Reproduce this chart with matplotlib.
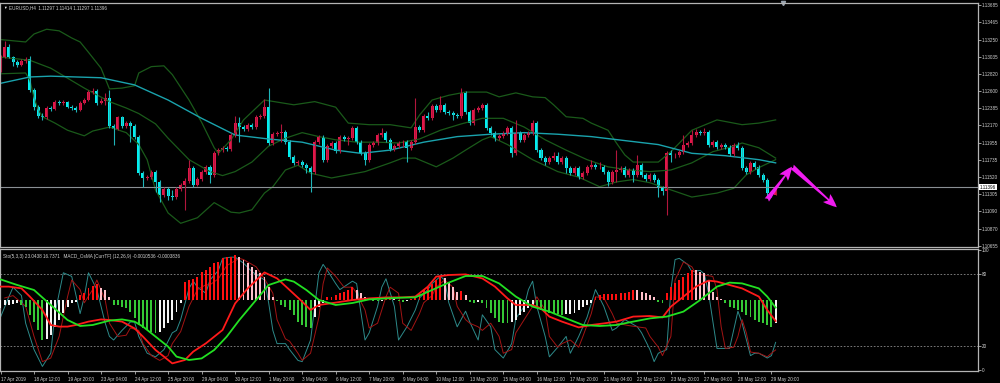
import matplotlib
matplotlib.use("Agg")
import matplotlib.pyplot as plt
import numpy as np

plt.rcParams['font.family'] = ['Liberation Sans', 'DejaVu Sans']

# EURUSD H4 -- bar 0 is 17 Apr 2019 04:00, last bar is the live one
first_open = 1.1287
closes = [
    1.1303, 1.1316, 1.1303, 1.1297, 1.1293, 1.1298, 1.1301, 1.1262, 1.1240, 1.1229,
    1.1228, 1.1239, 1.1238, 1.1247, 1.1245, 1.1247, 1.1240, 1.1239, 1.1237, 1.1245,
    1.1249, 1.1259, 1.1260, 1.1245, 1.1248, 1.1252, 1.1216, 1.1213, 1.1228, 1.1216,
    1.1220, 1.1216, 1.1203, 1.1157, 1.1151, 1.1152, 1.1159, 1.1146, 1.1130, 1.1137,
    1.1128, 1.1127, 1.1137, 1.1142, 1.1147, 1.1164, 1.1142, 1.1150, 1.1159, 1.1165,
    1.1155, 1.1182, 1.1186, 1.1189, 1.1188, 1.1205, 1.1220, 1.1215, 1.1213, 1.1218,
    1.1215, 1.1228, 1.1229, 1.1240, 1.1195, 1.1206, 1.1208, 1.1209, 1.1196, 1.1177,
    1.1170, 1.1171, 1.1167, 1.1164, 1.1159, 1.1196, 1.1203, 1.1174, 1.1191, 1.1195,
    1.1185, 1.1203, 1.1200, 1.1201, 1.1214, 1.1196, 1.1182, 1.1174, 1.1193, 1.1195,
    1.1205, 1.1208, 1.1199, 1.1188, 1.1191, 1.1195, 1.1196, 1.1189, 1.1196, 1.1215,
    1.1211, 1.1229, 1.1226, 1.1242, 1.1237, 1.1243, 1.1234, 1.1233, 1.1230, 1.1229,
    1.1258, 1.1234, 1.1220, 1.1237, 1.1239, 1.1243, 1.1214, 1.1208, 1.1201, 1.1204,
    1.1208, 1.1214, 1.1182, 1.1208, 1.1199, 1.1205, 1.1208, 1.1220, 1.1186, 1.1176,
    1.1171, 1.1176, 1.1179, 1.1171, 1.1176, 1.1164, 1.1157, 1.1164, 1.1152, 1.1157,
    1.1165, 1.1167, 1.1165, 1.1165, 1.1159, 1.1146, 1.1159, 1.1161, 1.1164, 1.1155,
    1.1161, 1.1155, 1.1167, 1.1155, 1.1150, 1.1155, 1.1149, 1.1138, 1.1135, 1.1182,
    1.1180, 1.1180, 1.1184, 1.1193, 1.1195, 1.1205, 1.1209, 1.1208, 1.1209, 1.1193,
    1.1196, 1.1190, 1.1193, 1.1190, 1.1181, 1.1193, 1.1189, 1.1164, 1.1159, 1.1170,
    1.1165, 1.1155, 1.1149, 1.1132, 1.11297, 1.11396]
highs = [
    1.1306, 1.1323, 1.1320, 1.1304, 1.1299, 1.1301, 1.1303, 1.1304, 1.1264, 1.1243,
    1.1233, 1.1242, 1.1242, 1.1249, 1.1249, 1.1249, 1.1248, 1.1243, 1.1242, 1.1248,
    1.1252, 1.1262, 1.1264, 1.1263, 1.1252, 1.1258, 1.1262, 1.1219, 1.1229, 1.1229,
    1.1223, 1.1223, 1.1219, 1.1205, 1.1160, 1.1155, 1.1161, 1.1161, 1.1149, 1.1140,
    1.1140, 1.1136, 1.1140, 1.1145, 1.1151, 1.1174, 1.1166, 1.1152, 1.1161, 1.1167,
    1.1167, 1.1185, 1.1189, 1.1191, 1.1191, 1.1208, 1.1229, 1.1228, 1.1218, 1.1220,
    1.1220, 1.1230, 1.1232, 1.1250, 1.1264, 1.1209, 1.1210, 1.1219, 1.1211, 1.1199,
    1.1180, 1.1174, 1.1174, 1.1170, 1.1166, 1.1199, 1.1205, 1.1205, 1.1194, 1.1198,
    1.1198, 1.1205, 1.1205, 1.1204, 1.1216, 1.1216, 1.1199, 1.1185, 1.1195, 1.1198,
    1.1208, 1.1214, 1.1210, 1.1201, 1.1194, 1.1198, 1.1199, 1.1199, 1.1199, 1.1252,
    1.1218, 1.1232, 1.1234, 1.1244, 1.1244, 1.1254, 1.1245, 1.1237, 1.1235, 1.1233,
    1.1264, 1.1260, 1.1237, 1.1239, 1.1242, 1.1245, 1.1245, 1.1216, 1.1210, 1.1206,
    1.1210, 1.1216, 1.1216, 1.1224, 1.1210, 1.1208, 1.1210, 1.1224, 1.1223, 1.1189,
    1.1179, 1.1179, 1.1184, 1.1184, 1.1179, 1.1179, 1.1166, 1.1166, 1.1166, 1.1160,
    1.1167, 1.1174, 1.1170, 1.1171, 1.1167, 1.1161, 1.1161, 1.1186, 1.1166, 1.1166,
    1.1164, 1.1164, 1.1180, 1.1170, 1.1157, 1.1157, 1.1157, 1.1151, 1.1141, 1.1185,
    1.1186, 1.1182, 1.1186, 1.1205, 1.1198, 1.1211, 1.1213, 1.1211, 1.1214, 1.1211,
    1.1199, 1.1199, 1.1195, 1.1195, 1.1193, 1.1195, 1.1196, 1.1191, 1.1166, 1.1172,
    1.1172, 1.1167, 1.1157, 1.1151, 1.1135, 1.11414]
lows = [
    1.1284, 1.1302, 1.1302, 1.1292, 1.1291, 1.1292, 1.1296, 1.1259, 1.1237, 1.1226,
    1.1224, 1.1225, 1.1235, 1.1237, 1.1243, 1.1243, 1.1239, 1.1237, 1.1234, 1.1235,
    1.1244, 1.1248, 1.1257, 1.1243, 1.1244, 1.1243, 1.1214, 1.1193, 1.1211, 1.1214,
    1.1214, 1.1196, 1.1200, 1.1155, 1.1140, 1.1149, 1.1150, 1.1133, 1.1121, 1.1127,
    1.1123, 1.1123, 1.1125, 1.1135, 1.1111, 1.1145, 1.1140, 1.1141, 1.1147, 1.1156,
    1.1145, 1.1152, 1.1180, 1.1184, 1.1185, 1.1185, 1.1203, 1.1196, 1.1210, 1.1210,
    1.1213, 1.1213, 1.1225, 1.1226, 1.1193, 1.1193, 1.1204, 1.1196, 1.1194, 1.1175,
    1.1167, 1.1167, 1.1165, 1.1157, 1.1133, 1.1156, 1.1194, 1.1171, 1.1171, 1.1189,
    1.1182, 1.1182, 1.1198, 1.1193, 1.1199, 1.1194, 1.1180, 1.1167, 1.1171, 1.1190,
    1.1193, 1.1203, 1.1196, 1.1185, 1.1185, 1.1189, 1.1190, 1.1171, 1.1186, 1.1194,
    1.1209, 1.1209, 1.1224, 1.1224, 1.1234, 1.1234, 1.1232, 1.1230, 1.1224, 1.1226,
    1.1226, 1.1232, 1.1218, 1.1218, 1.1234, 1.1237, 1.1211, 1.1205, 1.1198, 1.1199,
    1.1201, 1.1205, 1.1177, 1.1180, 1.1196, 1.1196, 1.1203, 1.1205, 1.1184, 1.1174,
    1.1167, 1.1169, 1.1174, 1.1169, 1.1169, 1.1157, 1.1155, 1.1155, 1.1150, 1.1150,
    1.1155, 1.1162, 1.1162, 1.1162, 1.1156, 1.1141, 1.1143, 1.1146, 1.1159, 1.1152,
    1.1152, 1.1146, 1.1152, 1.1152, 1.1147, 1.1147, 1.1146, 1.1127, 1.1130, 1.1104,
    1.1171, 1.1176, 1.1177, 1.1181, 1.1190, 1.1193, 1.1203, 1.1205, 1.1205, 1.1190,
    1.1190, 1.1188, 1.1188, 1.1188, 1.1179, 1.1179, 1.1186, 1.1161, 1.1156, 1.1156,
    1.1162, 1.1152, 1.1146, 1.1126, 1.1127, 1.11297]

# moving average (teal) sampled at bars
ma_bar = [0, 7, 12, 24, 32, 40, 48, 56, 64, 72, 80, 86, 93, 101, 109, 117, 125,
          133, 141, 149, 157, 165, 173, 181, 185]
ma_val = [1.1270, 1.1278, 1.1279, 1.1277, 1.1268, 1.1249, 1.1226, 1.1205, 1.1200,
          1.1196, 1.1186, 1.1182, 1.1186, 1.1196, 1.1203, 1.1206, 1.1208, 1.1206,
          1.1203, 1.1198, 1.1193, 1.1182, 1.1179, 1.1174, 1.1170]

# bollinger bands (dark green)
bb_up_bar = [0, 6, 8, 11, 14, 17, 19, 21, 24, 26, 29, 32, 33, 36, 39, 41, 45, 48,
             51, 52, 55, 58, 63, 70, 75, 80, 83, 88, 93, 98, 100, 103, 107, 111,
             116, 119, 123, 127, 130, 132, 135, 139, 141, 145, 147, 149, 151, 157,
             160, 165, 171, 177, 181, 185]
bb_up_val = [1.1325, 1.1322, 1.1332, 1.1338, 1.1336, 1.1327, 1.1322, 1.1309, 1.1289,
             1.1263, 1.1264, 1.1267, 1.1283, 1.1291, 1.1292, 1.1281, 1.1249, 1.1221,
             1.1189, 1.1182, 1.1199, 1.1224, 1.1249, 1.1243, 1.1247, 1.1240, 1.1220,
             1.1218, 1.1218, 1.1214, 1.1230, 1.1249, 1.1255, 1.1259, 1.1259, 1.1253,
             1.1258, 1.1253, 1.1252, 1.1243, 1.1228, 1.1226, 1.1220, 1.1211, 1.1195,
             1.1180, 1.1171, 1.1171, 1.1184, 1.1211, 1.1224, 1.1218, 1.1220, 1.1224]
bb_mid_bar = [0, 7, 12, 20, 26, 30, 33, 37, 40, 45, 50, 53, 56, 60, 64, 68, 72, 76,
              80, 85, 90, 95, 100, 105, 110, 115, 120, 125, 130, 135, 140, 145, 150,
              155, 160, 165, 170, 175, 177, 181, 185]
bb_mid_val = [1.1303, 1.1299, 1.1289, 1.1264, 1.1247, 1.1239, 1.1232, 1.1219, 1.1201,
              1.1174, 1.1159, 1.1154, 1.1159, 1.1171, 1.1191, 1.1201, 1.1208, 1.1203,
              1.1199, 1.1196, 1.1196, 1.1195, 1.1200, 1.1211, 1.1219, 1.1226, 1.1226,
              1.1215, 1.1199, 1.1186, 1.1174, 1.1165, 1.1161, 1.1159, 1.1161, 1.1170,
              1.1184, 1.1191, 1.1195, 1.1189, 1.1176]
bb_lo_bar = [0, 6, 7, 8, 9, 10, 13, 16, 20, 22, 26, 30, 33, 35, 37, 40, 43, 47, 51,
             55, 57, 60, 63, 65, 68, 71, 74, 79, 87, 93, 96, 99, 104, 108, 111, 115,
             117, 121, 127, 133, 138, 143, 147, 151, 155, 160, 165, 171, 175, 178,
             181, 185]
bb_lo_val = [1.1282, 1.1283, 1.1274, 1.1252, 1.1237, 1.1228, 1.1220, 1.1211, 1.1204,
             1.1210, 1.1215, 1.1208, 1.1193, 1.1174, 1.1136, 1.1107, 1.1094, 1.1101,
             1.1120, 1.1108, 1.1107, 1.1111, 1.1132, 1.1140, 1.1161, 1.1167, 1.1157,
             1.1151, 1.1159, 1.1170, 1.1176, 1.1176, 1.1165, 1.1176, 1.1186, 1.1199,
             1.1203, 1.1193, 1.1174, 1.1159, 1.1152, 1.1140, 1.1146, 1.1149, 1.1145,
             1.1136, 1.1127, 1.1132, 1.1138, 1.1155, 1.1164, 1.1174]

# MACD OsMA histogram, one value per bar
osma = [
    -0.00042, -0.00025, -0.00025, -0.00022, -0.00017, -0.00025, -0.00033, -0.00075, -0.00108, -0.0015,
    -0.002, -0.00193, -0.00175, -0.00133, -0.001, -0.00067, -0.00033, -0.00017, -0.00008, 0.00025,
    0.00033, 0.00058, 0.0007, 0.0008, 0.00058, 0.0005, 0.00017, -0.00025, -0.00027, -0.00033,
    -0.00042, -0.00058, -0.00092, -0.00125, -0.00142, -0.0015, -0.00158, -0.00163, -0.00158, -0.00142,
    -0.00117, -0.001, -0.00058, -0.00017, 0.00092, 0.001, 0.00103, 0.00117, 0.00142, 0.0015,
    0.00167, 0.00183, 0.00192, 0.00208, 0.00213, 0.00217, 0.00225, 0.00217, 0.002, 0.00183,
    0.00167, 0.0015, 0.00133, 0.00117, 0.00067, 0.00017, -0.00007, -0.00025, -0.00033, -0.0005,
    -0.00075, -0.00108, -0.00125, -0.00137, -0.00142, -0.00083, -0.00033, -0.00017, 0.00013, 0.00017,
    0.00025, 0.00033, 0.00042, 0.0005, 0.00067, 0.0005, 0.00033, 0.00017, 0.00003, -0.00003,
    -0.00007, -0.00003, 0.00003, 0.00007, 0.00003, -0.00005, -0.00008, -0.00007, 0.00003, 0.00017,
    0.00033, 0.0005, 0.00067, 0.0008, 0.001, 0.00113, 0.00108, 0.00092, 0.00067, 0.00042,
    0.00045, 0.00025, -0.00008, -0.00013, -0.00008, -0.00017, -0.00042, -0.00067, -0.00092, -0.00108,
    -0.00113, -0.00117, -0.00108, -0.001, -0.00075, -0.00058, -0.00042, -0.00025, -0.00033, -0.0005,
    -0.00058, -0.00067, -0.00068, -0.0007, -0.00075, -0.0007, -0.00069, -0.00063, -0.0005, -0.00033,
    -0.00025, -0.00013, 0.00017, 0.00025, 0.0003, 0.0003, 0.00031, 0.00032, 0.00033, 0.00037,
    0.00042, 0.0005, 0.00048, 0.00042, 0.00033, 0.00025, 0.00017, -0.00008, -0.00017, 0.00033,
    0.00067, 0.00083, 0.001, 0.00117, 0.00133, 0.00152, 0.0015, 0.00142, 0.00133, 0.001,
    0.00042, 0.00017, 0.00003, -0.00013, -0.00033, -0.00042, -0.0005, -0.00058, -0.00075, -0.00087,
    -0.001, -0.00108, -0.00117, -0.00125, -0.00137, -0.00117]

# MACD main (red) and signal (lime)
macd_bar = [0, 2, 5, 7, 10, 12, 14, 16, 18, 21, 24, 26, 29, 32, 34, 37, 39, 41, 44,
            46, 49, 53, 56, 59, 63, 66, 69, 72, 74, 76, 80, 84, 88, 92, 96, 99, 102,
            104, 107, 111, 115, 118, 121, 123, 127, 129, 131, 134, 138, 141, 144,
            147, 151, 155, 158, 160, 163, 166, 169, 171, 174, 177, 181, 183, 185]
macd_val = [0.00067, 0.00067, 0.00058, 0.00017, -0.0005, -0.00125, -0.00133, -0.00133,
            -0.00125, -0.00108, -0.00097, -0.001, -0.00108, -0.00142, -0.00183, -0.0025,
            -0.00283, -0.00317, -0.003, -0.00258, -0.00217, -0.0015, -0.00017, 0.00058,
            0.00138, 0.00108, 0.0005, -0.00008, -0.0005, -0.00025, -0.00013, 0.0, 0.00008,
            0.00013, 0.00013, 0.00017, 0.00067, 0.00117, 0.00125, 0.00128, 0.00108,
            0.00067, 0.00008, -0.00025, -0.00025, -0.00042, -0.00083, -0.00108, -0.00137,
            -0.00125, -0.00117, -0.00108, -0.00083, -0.0008, -0.00087, -0.00033, 0.00017,
            0.00067, 0.00097, 0.00092, 0.00075, 0.00058, 0.00017, -0.0005, -0.00105]
signal_bar = [0, 4, 8, 12, 16, 19, 22, 26, 29, 32, 34, 37, 40, 42, 45, 48, 51, 54,
              57, 61, 64, 68, 70, 73, 76, 80, 84, 88, 92, 96, 99, 103, 107, 111, 115,
              119, 123, 127, 131, 135, 139, 143, 147, 151, 155, 159, 163, 167, 171,
              174, 177, 181, 183, 185]
signal_val = [0.00103, 0.00075, 0.0005, -0.00025, -0.001, -0.0013, -0.00125, -0.00103,
              -0.00097, -0.00108, -0.00133, -0.00183, -0.00233, -0.00283, -0.003,
              -0.00292, -0.0025, -0.00183, -0.001, 0.0, 0.00075, 0.00103, 0.00092,
              0.0005, 0.0, -0.00025, -0.00015, 0.00003, 0.00008, 0.00012, 0.00013,
              0.0005, 0.00087, 0.0012, 0.0012, 0.00083, 0.00017, -0.00033, -0.00058,
              -0.00092, -0.00125, -0.0013, -0.00125, -0.00108, -0.00092, -0.00083,
              -0.00058, 0.0, 0.00067, 0.00087, 0.00083, 0.00058, 0.00017, -0.00038]

# stochastic (5,3,3): main (teal) and signal (dark red)
stk_bar = [0, 2, 3, 5, 6, 8, 10, 12, 13, 15, 17, 19, 20, 21, 23, 25, 26, 27, 29,
           31, 32, 33, 35, 37, 39, 41, 42, 43, 45, 46, 47, 49, 50, 52, 53, 55, 56,
           58, 60, 63, 64, 65, 66, 68, 69, 71, 72, 74, 76, 77, 78, 80, 81, 84, 85,
           87, 88, 90, 91, 92, 94, 95, 97, 99, 100, 102, 103, 105, 106, 107, 109,
           111, 112, 114, 115, 117, 118, 120, 122, 123, 125, 126, 127, 128, 130,
           131, 133, 135, 136, 138, 140, 142, 144, 146, 147, 149, 150, 152, 153,
           155, 156, 157, 159, 160, 161, 162, 164, 165, 167, 168, 169, 171, 173,
           174, 176, 177, 179, 180, 181, 183, 184, 185]
stk_val = [44, 61, 69, 62, 39, 17, 3, 14, 47, 81, 78, 47, 61, 81, 67, 39, 28, 25, 33,
           40, 40, 28, 14, 11, 17, 31, 33, 42, 68, 74, 69, 64, 75, 83, 93, 94, 94,
           89, 82, 75, 56, 33, 22, 22, 17, 8, 7, 25, 81, 88, 83, 72, 67, 74, 72,
           25, 31, 53, 69, 76, 53, 25, 36, 50, 60, 67, 72, 78, 75, 56, 36,
           49, 40, 25, 46, 36, 17, 10, 22, 43, 53, 67, 74, 53, 28,
           11, 19, 28, 14, 28, 44, 67, 53, 33, 35, 42, 40, 36, 31,
           17, 7, 14, 17, 67, 92, 93, 88, 82, 83, 80, 64, 18, 18,
           18, 49, 39, 12, 14, 14, 10, 12, 23.04]
std_bar = [1, 3, 6, 8, 10, 12, 14, 16, 17, 19, 20, 22, 23, 25, 26, 28, 30, 31, 33,
           34, 36, 38, 40, 41, 43, 45, 47, 49, 50, 52, 54, 57, 58, 61, 63, 65, 66,
           68, 69, 71, 72, 74, 76, 77, 78, 80, 82, 84, 85, 87, 88, 90, 92, 93, 95,
           96, 98, 100, 101, 103, 104, 106, 108, 109, 111, 112, 114, 115, 117, 119,
           120, 122, 123, 125, 127, 128, 130, 131, 133, 134, 136, 138, 139, 141,
           142, 144, 146, 147, 150, 152, 154, 155, 157, 158, 160, 161, 163, 165,
           166, 168, 170, 171, 172, 173, 175, 176, 177, 178, 179, 181, 183, 184, 185]
std_val = [60, 62, 53, 28, 7, 10, 28, 61, 75, 67, 56, 67, 75, 58, 39, 28, 29, 35, 33,
           22, 12, 8, 12, 22, 32, 53, 67, 71, 71, 76, 87, 93, 92, 86, 76, 64, 42,
           26, 24, 14, 8, 14, 44, 72, 85, 78, 69, 69, 64, 50, 35, 39, 61, 69, 64,
           39, 33, 47, 56, 62, 69, 75, 69, 53, 42, 39, 36, 33, 39, 28,
           14, 17, 31, 42, 53, 61, 50, 28, 19, 22, 25, 19, 28, 47,
           61, 60, 47, 39, 37, 36, 35, 28, 19, 12, 28, 75, 90, 86,
           80, 79, 78, 67, 36, 18, 19, 28, 42, 31, 15, 14, 11, 14, 16.74]

price_ticks = [1.13685, 1.13465, 1.13250, 1.13035, 1.12820, 1.12600, 1.12385,
               1.12170, 1.11955, 1.11735, 1.11520, 1.11305, 1.11090, 1.10870, 1.10655]
time_bars = [0, 8, 16, 24, 32, 40, 48, 56, 64, 72, 80, 88, 96, 104, 112, 120, 128,
             136, 144, 152, 160, 168, 176, 184]
time_labels = ['17 Apr 2019', '18 Apr 12:00', '19 Apr 20:00', '23 Apr 04:00',
               '24 Apr 12:00', '25 Apr 20:00', '29 Apr 04:00', '30 Apr 12:00',
               '1 May 20:00', '3 May 04:00', '6 May 12:00', '7 May 20:00',
               '9 May 04:00', '10 May 12:00', '13 May 20:00', '15 May 04:00',
               '16 May 12:00', '17 May 20:00', '21 May 04:00', '22 May 12:00',
               '23 May 20:00', '27 May 04:00', '28 May 12:00', '29 May 20:00']

# hand-drawn forecast arrows (bar, price)
arrow_bar = [182.9, 188.9, 199.6]
arrow_price = [1.11233, 1.11652, 1.11142]
shift_bar = 186.8

GRID = '#b4b4b4'
TXT = '#d2d2d2'
FS = 3.35

fig = plt.figure(figsize=(10, 3.83), dpi=100, facecolor='black')
ax = fig.add_axes([0.0, 1 - 247 / 383, 0.978, 244 / 383])
sub = fig.add_axes([0.0, 1 - 371 / 383, 0.978, 122 / 383])
mac = sub.twinx()

for a in (ax, sub):
    a.set_facecolor('black')
    for s in a.spines.values():
        s.set_color(GRID)
        s.set_linewidth(0.9)
for s in mac.spines.values():
    s.set_visible(False)

xlim = (-0.12, 233.3)

# ---- main window ----
n = len(closes)
bars = np.arange(n)
c = np.array(closes)
o = np.array([first_open] + closes[:-1])
h = np.array(highs)
l = np.array(lows)
up = c >= o
wick_col = np.where(up, '#b3163c', '#1fb4b8')
body_col = np.where(up, '#e3174a', '#00f2f2')

ax.plot(bb_up_bar, bb_up_val, color='#1a5a1a', lw=0.9)
ax.plot(bb_mid_bar, bb_mid_val, color='#1a5a1a', lw=0.9)
ax.plot(bb_lo_bar, bb_lo_val, color='#1a5a1a', lw=0.9)
ax.plot(ma_bar, ma_val, color='#1aa3ad', lw=1.0)
ax.axhline(c[-1], color='#8a8f94', lw=0.8)
ax.vlines(bars, l, h, colors=wick_col, lw=0.8)
ax.bar(bars, np.maximum(np.abs(c - o), 0.00003), bottom=np.minimum(o, c),
       width=0.72, color=body_col, linewidth=0)

arr_style = 'fancy,head_length=0.9,head_width=0.7,tail_width=0.35'
for k in range(2):
    ax.annotate('', xy=(arrow_bar[k + 1], arrow_price[k + 1]),
                xytext=(arrow_bar[k], arrow_price[k]),
                arrowprops=dict(arrowstyle=arr_style, color='#f01cf0', lw=0,
                                mutation_scale=11, shrinkA=0, shrinkB=0))

ax.set_xlim(*xlim)
ax.set_ylim(1.10642, 1.13710)
ax.set_xticks([])
ax.yaxis.tick_right()
ax.set_yticks(price_ticks)
ax.set_yticklabels(['%.5f' % p for p in price_ticks])
ax.tick_params(axis='y', colors=GRID, labelcolor=TXT, labelsize=FS, length=2,
               width=0.6, pad=1)
ax.annotate('%.5f' % c[-1], xy=(1.0, c[-1]), xycoords=('axes fraction', 'data'),
            xytext=(1.5, 0), textcoords='offset points', ha='left', va='center',
            fontsize=FS, color='black',
            bbox=dict(boxstyle='square,pad=0.15', fc='white', ec='none'),
            annotation_clip=False)
ax.plot([shift_bar], [1.0], marker='v', ms=3, color='#9aa4b0',
        transform=ax.get_xaxis_transform(), clip_on=False)

fig.text(0.003, 1 - 7.5 / 383, '\u25bc', fontsize=2.6, color='white', va='center')
fig.text(0.009, 1 - 7.5 / 383, 'EURUSD,H4  1.11297 1.11414 1.11297 1.11396',
         fontsize=FS, color=TXT, va='center')

# ---- sub window ----
sub.axhline(80, color='#8c8c8c', lw=0.6, ls=(0, (2, 2)))
sub.axhline(20, color='#8c8c8c', lw=0.6, ls=(0, (2, 2)))
sub.plot(stk_bar, stk_val, color='#2d8a8a', lw=0.7)
sub.plot(std_bar, std_val, color='#a31414', lw=0.7)

hist_col = []
prev = osma[0]
for v in osma:
    if v >= 0:
        hist_col.append('#ff1010' if v >= prev else '#ffc0cb')
    else:
        hist_col.append('#f4f4f4' if v >= prev else '#35c935')
    prev = v
mac.bar(bars, osma, width=0.46, color=hist_col, linewidth=0)
mac.plot(macd_bar, macd_val, color='#ff1a1a', lw=1.3)
mac.plot(signal_bar, signal_val, color='#22e022', lw=1.3)
mac.set_ylim(-0.00355, 0.00255)
mac.set_yticks([])

sub.set_xlim(*xlim)
sub.set_ylim(-0.8, 100.8)
sub.yaxis.tick_right()
sub.set_yticks([0, 20, 80, 100])
sub.set_yticklabels(['0', '20', '80', '100'])
sub.tick_params(axis='y', colors=GRID, labelcolor=TXT, labelsize=FS, length=2,
                width=0.6, pad=1)
sub.set_xticks(time_bars)
sub.set_xticklabels(time_labels)
for t in sub.get_xticklabels():
    t.set_ha('left')
sub.tick_params(axis='x', colors=GRID, labelcolor=TXT, labelsize=FS, length=2.5,
                width=0.6, pad=1.5)

fig.text(0.003, 1 - 256.5 / 383,
         'Sto(5,3,3) 23.0438 16.7371   MACD_OsMA [CurrTF] (12,26,9) -0.0010536 -0.0003836',
         fontsize=FS, color=TXT, va='center')

fig.savefig('out.png', dpi=100, facecolor='black')
